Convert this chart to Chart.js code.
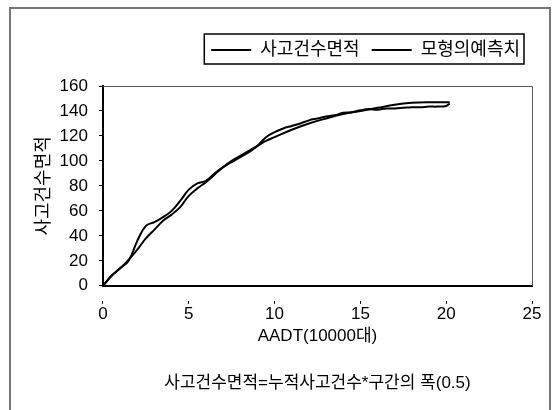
<!DOCTYPE html>
<html>
<head>
<meta charset="utf-8">
<script src="https://cdn.jsdelivr.net/npm/chart.js@4.4.1/dist/chart.umd.min.js"></script>
<style>
  body { margin: 0; background: #fff; }
  #wrap { position: relative; width: 559px; height: 410px; overflow: hidden; }
  #frame { position: absolute; left: 9px; top: 7px; width: 538px; height: 420px; border: 2px solid #777; pointer-events: none; }
</style>
</head>
<body>
<div id="wrap">
  <canvas id="chart" width="559" height="410"></canvas>
  <div id="frame"></div>
</div>
<script>
// accident-count area (actual)
const actualX = [0, 0.5, 1, 1.5, 2, 2.5, 3, 3.5, 4, 4.5, 5, 5.5, 6, 6.5, 7, 7.5, 8, 8.5, 9, 9.5, 10,
                 10.5, 11, 11.5, 12, 12.5, 13, 13.5, 14, 14.5, 15, 15.5, 16, 16.5, 17, 17.5, 18, 18.5, 19, 19.5, 20, 20.2];
const actualY = [0, 8, 14, 20, 36, 48, 51, 55, 60, 68, 77, 82, 84, 90, 95, 99, 103, 107, 112, 119, 123,
                 126, 128, 130, 132.5, 134, 135.5, 136.5, 138.5, 139, 140.5, 141.5, 141, 142, 142, 142.5, 143, 143, 143.5, 143.5, 144, 146];
// model prediction
const modelX = [0, 0.5, 1, 1.5, 2, 2.5, 3, 3.5, 4, 4.5, 5, 5.5, 6, 6.5, 7, 7.5, 8, 8.5, 9, 9.5, 10,
                11, 12, 13, 14, 15, 16, 17, 18, 19, 20.2];
const modelY = [0, 8, 14, 21, 29, 38, 45, 52, 57, 63, 72, 78, 83, 89, 95, 100, 104, 108, 112, 116, 119,
                125, 130, 134, 137.5, 140, 142.5, 145, 146.5, 147, 147];

const seriesNames = ['사고건수면적', '모형의예측치'];
const xTitle = 'AADT(10000대)';
const noteText = '사고건수면적=누적사고건수*구간의 폭(0.5)';
const yTitle = '사고건수면적';

const toPoints = (xs, ys) => xs.map((x, i) => ({ x: x, y: ys[i] }));

const fontFamily = "'Liberation Sans', 'Noto Sans CJK KR', sans-serif";

const frameBox = {
    id: 'frameBox',
    beforeInit(chart) {
        // leave extra room under the legend
        const legend = chart.legend;
        if (!legend) return;
        const fit = legend.fit;
        legend.fit = function () {
            fit.call(this);
            this.height += 17;
        };
    },
    beforeDatasetsDraw(chart) {
        const { ctx, chartArea: a } = chart;
        ctx.save();
        ctx.strokeStyle = '#555';
        ctx.lineWidth = 1;
        ctx.beginPath();
        ctx.moveTo(a.left, a.top + 0.5);
        ctx.lineTo(a.right + 0.5, a.top + 0.5);
        ctx.lineTo(a.right + 0.5, a.bottom);
        ctx.stroke();
        ctx.restore();
    },
    afterDraw(chart) {
        const boxes = chart.legend.legendHitBoxes;
        if (!boxes || !boxes.length) return;
        const left = Math.min(...boxes.map(b => b.left)) - 7;
        const right = Math.max(...boxes.map(b => b.left + b.width)) + 4;
        const top = Math.min(...boxes.map(b => b.top)) - 7;
        const bottom = Math.max(...boxes.map(b => b.top + b.height)) + 5;
        const ctx = chart.ctx;
        ctx.save();
        ctx.strokeStyle = '#000';
        ctx.lineWidth = 1.5;
        ctx.strokeRect(left, top, right - left, bottom - top);
        ctx.restore();
    }
};

const ctx = document.getElementById('chart').getContext('2d');
new Chart(ctx, {
    type: 'scatter',
    data: {
        datasets: [
            {
                label: seriesNames[0],
                data: toPoints(actualX, actualY),
                showLine: true,
                borderColor: '#000',
                backgroundColor: '#000',
                borderWidth: 2,
                pointRadius: 0,
                tension: 0.4,
            },
            {
                label: seriesNames[1],
                data: toPoints(modelX, modelY),
                showLine: true,
                borderColor: '#000',
                backgroundColor: '#000',
                borderWidth: 2,
                pointRadius: 0,
                tension: 0.4,
            },
        ],
    },
    options: {
        responsive: false,
        animation: false,
        layout: {
            padding: { left: 33, right: 27, top: 29, bottom: 0 },
        },
        scales: {
            x: {
                min: 0,
                max: 25,
                ticks: { stepSize: 5, color: '#000', font: { family: fontFamily, size: 17 }, padding: 0 },
                // long tick slot, but only the 4px next to the axis is drawn
                grid: { display: true, drawOnChartArea: false, drawTicks: true, tickLength: 18, tickBorderDash: [0, 14, 4, 100], color: '#000' },
                border: { display: true, color: '#000', width: 2 },
                title: {
                    display: true,
                    text: xTitle,
                    color: '#000',
                    font: { family: fontFamily, size: 17, lineHeight: 1.2 },
                    padding: { top: 2, bottom: 0 },
                },
            },
            y: {
                min: 0,
                max: 160,
                ticks: { stepSize: 20, color: '#000', font: { family: fontFamily, size: 17 }, padding: 5 },
                grid: { display: true, drawOnChartArea: false, drawTicks: true, tickLength: 10, tickBorderDash: [0, 6, 4, 100], color: '#000' },
                border: { display: true, color: '#000', width: 2 },
                title: {
                    display: true,
                    text: yTitle,
                    color: '#000',
                    font: { family: fontFamily, size: 18 },
                    padding: { top: 0, bottom: 0 },
                },
            },
        },
        plugins: {
            legend: {
                position: 'top',
                align: 'end',
                labels: {
                    color: '#000',
                    font: { family: fontFamily, size: 18 },
                    usePointStyle: true,
                    pointStyle: 'line',
                    pointStyleWidth: 40,
                    padding: 12,
                },
            },
            title: {
                display: true,
                position: 'bottom',
                fullSize: false,
                text: noteText,
                color: '#000',
                font: { family: fontFamily, size: 17, weight: 'normal', lineHeight: 1.2 },
                padding: { top: 27, bottom: 16 },
            },
            tooltip: { enabled: false },
        },
    },
    plugins: [frameBox],
});
</script>
</body>
</html>
